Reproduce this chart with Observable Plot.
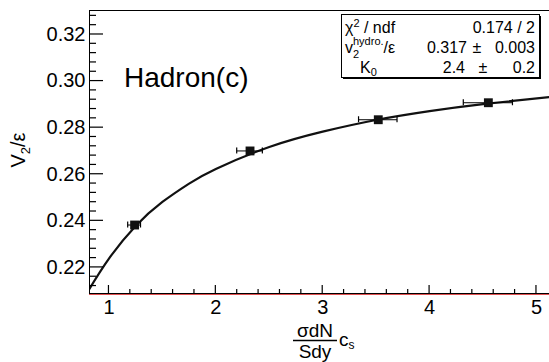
<!DOCTYPE html>
<html><head><meta charset="utf-8">
<script src="https://cdn.jsdelivr.net/npm/d3@7"></script>
<script src="https://cdn.jsdelivr.net/npm/@observablehq/plot@0.6"></script>
<style>
body{margin:0;background:#fff}
#chart{position:relative;width:549px;height:362px}
</style>
</head><body><div id="chart"></div>
<script>
// Measured points: (sigma dN/(S dy)) c_s  vs  v2/epsilon
const xValues = [1.24, 2.32, 3.52, 4.55];
const yValues = [0.2382, 0.2700, 0.2834, 0.2907];
const xErrors = [0.06, 0.12, 0.18, 0.23];
// Fit curve
const fitX = [0.80, 1.00, 1.25, 1.50, 1.75, 2.00, 2.50, 3.00, 3.50, 4.00, 4.50, 5.15];
const fitY = [0.2095, 0.2238, 0.2378, 0.2481, 0.2560, 0.2623, 0.2717, 0.2783, 0.2833, 0.2871, 0.2901, 0.2933];
// Axis ticks
const xTicks = [1, 2, 3, 4, 5];
const yTicks = [0.22, 0.24, 0.26, 0.28, 0.30, 0.32];
const xDomain = [0.818, 5.122];
const yDomain = [0.2088, 0.3303];
// Fit box
const fitValues = ["0.174 / 2", "0.317", "2.4"];
const fitErrors = ["", "0.003", "0.2"];
const panelLabel = "Hadron(c)";

const W = 549, H = 362, ML = 89, MR = 0, MT = 10, MB = 69;
const points = xValues.map((x, i) => ({x, y: yValues[i], ex: xErrors[i]}));
const fit = fitX.map((x, i) => ({x, y: fitY[i]}));
const xMinor = d3.range(1, 5.2, 0.2).map(v => +v.toFixed(2)).filter(v => !xTicks.includes(v));
const yMinor = d3.range(0.212, 0.331, 0.004).map(v => +v.toFixed(3)).filter(v => !yTicks.some(t => Math.abs(t - v) < 1e-6));
const FONT = "'Liberation Sans', Arial, Helvetica, sans-serif";
// pixel length -> data length
const pxY = (yDomain[1] - yDomain[0]) / (H - MT - MB);
const pxX = (xDomain[1] - xDomain[0]) / (W - ML - MR);

// tick marks as thin filled rectangles (inward)
const xTickMark = (ticks, len) => Plot.rect(ticks, {x1: d => d - 0.6 * pxX, x2: d => d + 0.6 * pxX, y1: () => yDomain[0], y2: () => yDomain[0] + len * pxY, fill: "#000"});
const yTickMark = (ticks, len) => Plot.rect(ticks, {y1: d => d - 0.6 * pxY, y2: d => d + 0.6 * pxY, x1: () => xDomain[0], x2: () => xDomain[0] + len * pxX, fill: "#000"});
const capMark = side => Plot.rect(points, {x1: d => d.x + side * d.ex - 0.6 * pxX, x2: d => d.x + side * d.ex + 0.6 * pxX, y1: d => d.y - 3 * pxY, y2: d => d.y + 3 * pxY, fill: "#000"});

const plot = Plot.plot({
  width: W,
  height: H,
  marginLeft: ML,
  marginRight: MR,
  marginTop: MT,
  marginBottom: MB,
  style: {fontFamily: FONT, background: "#fff"},
  x: {domain: xDomain, axis: null},
  y: {domain: yDomain, axis: null},
  marks: [
    Plot.line(fit, {x: "x", y: "y", curve: "natural", stroke: "#111", strokeWidth: 2.2, clip: true}),
    Plot.ruleY(points, {y: "y", x1: d => d.x - d.ex, x2: d => d.x + d.ex, stroke: "#000", strokeWidth: 1}),
    capMark(-1),
    capMark(1),
    Plot.dot(points, {x: "x", y: "y", symbol: "square", r: 5, fill: "#111", stroke: "none"}),
    Plot.frame({anchor: "left", stroke: "#000"}),
    Plot.frame({anchor: "top", stroke: "#000"}),
    Plot.ruleY([yDomain[0]], {stroke: "#e05050", strokeWidth: 1, dy: 1}),
    Plot.frame({anchor: "bottom", stroke: "#000"}),
    xTickMark(xTicks, 8),
    xTickMark(xMinor, 4),
    yTickMark(yTicks, 14),
    yTickMark(yMinor, 7),
    Plot.axisX({ticks: xTicks, tickSize: 0, tickPadding: 6, tickFormat: d => String(d), fontSize: 20, label: null}),
    Plot.axisY({ticks: yTicks, tickSize: 0, tickPadding: 4, tickFormat: d3.format(".2f"), fontSize: 20, label: null})
  ]
});

document.getElementById("chart").appendChild(plot);
const svg = d3.select(plot);
const g = svg.append("g").attr("font-family", FONT).attr("fill", "#000").attr("text-anchor", "start");

// panel label
g.append("text").attr("x", 124).attr("y", 87).attr("font-size", 28).text(panelLabel);

// y label
const yl = g.append("text").attr("transform", "translate(25,150) rotate(-90)")
  .attr("text-anchor", "middle").attr("font-size", 20);
yl.append("tspan").text("V");
yl.append("tspan").attr("font-size", 13).attr("dy", 5).text("2");
yl.append("tspan").attr("dy", -5).text("/ε");

// x label (fraction)
g.append("text").attr("x", 315).attr("y", 337).attr("text-anchor", "middle").attr("font-size", 19).text("σdN");
g.append("line").attr("x1", 293).attr("x2", 337).attr("y1", 340.5).attr("y2", 340.5).attr("stroke", "#000").attr("stroke-width", 1.5);
g.append("text").attr("x", 315).attr("y", 358).attr("text-anchor", "middle").attr("font-size", 19).text("Sdy");
const cs = g.append("text").attr("x", 339).attr("y", 346).attr("font-size", 19);
cs.append("tspan").text("c");
cs.append("tspan").attr("font-size", 12).attr("dy", 3).text("s");

// fit statistics box
g.append("rect").attr("x", 343).attr("y", 16).attr("width", 198).attr("height", 63).attr("fill", "#000");
g.append("rect").attr("x", 341.5).attr("y", 14.5).attr("width", 198).attr("height", 63).attr("fill", "#fff").attr("stroke", "#000");
const fs = 16;
const rowsY = [33, 53, 73];
const r1 = g.append("text").attr("x", 345).attr("y", rowsY[0]).attr("font-size", fs);
r1.append("tspan").text("χ");
r1.append("tspan").attr("font-size", 11).attr("dy", -6).text("2");
r1.append("tspan").attr("dy", 6).text(" / ndf");
g.append("text").attr("x", 535).attr("y", rowsY[0]).attr("text-anchor", "end").attr("font-size", fs).text(fitValues[0]);
const r2 = g.append("text").attr("x", 345).attr("y", rowsY[1]).attr("font-size", fs);
r2.append("tspan").text("v");
r2.append("tspan").attr("font-size", 11).attr("dy", -8).text("hydro.");
r2.append("tspan").attr("dy", 8).text("/ε");
g.append("text").attr("x", 353).attr("y", rowsY[1] + 5).attr("font-size", 11).text("2");
g.append("text").attr("x", 467).attr("y", rowsY[1]).attr("text-anchor", "end").attr("font-size", fs).text(fitValues[1]);
g.append("text").attr("x", 477).attr("y", rowsY[1]).attr("text-anchor", "middle").attr("font-size", fs).text("±");
g.append("text").attr("x", 535).attr("y", rowsY[1]).attr("text-anchor", "end").attr("font-size", fs).text(fitErrors[1]);
const r3 = g.append("text").attr("x", 360).attr("y", rowsY[2]).attr("font-size", fs);
r3.append("tspan").text("K");
r3.append("tspan").attr("font-size", 11).attr("dy", 3).text("0");
g.append("text").attr("x", 465).attr("y", rowsY[2]).attr("text-anchor", "end").attr("font-size", fs).text(fitValues[2]);
g.append("text").attr("x", 483).attr("y", rowsY[2]).attr("text-anchor", "middle").attr("font-size", fs).text("±");
g.append("text").attr("x", 535).attr("y", rowsY[2]).attr("text-anchor", "end").attr("font-size", fs).text(fitErrors[2]);
</script>
</body></html>
